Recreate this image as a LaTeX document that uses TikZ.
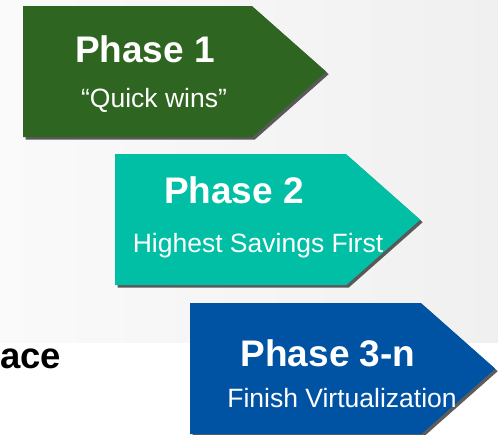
\documentclass[tikz,border=0pt]{standalone}
\usepackage{fontspec}
\setmainfont{Liberation Sans}
\usetikzlibrary{shapes.symbols, shadows, positioning}

\definecolor{phaseGreen}{HTML}{2E6520}
\definecolor{phaseTeal}{HTML}{00BFA5}
\definecolor{phaseBlue}{HTML}{0052A2}
\definecolor{bandLeft}{HTML}{FAFAFA}
\definecolor{bandRight}{HTML}{F0F0F0}

\begin{document}
\begin{tikzpicture}[
	x=1pt, y=-1pt,
	phase/.style={
		signal, signal to=east, signal pointer angle=83,
		minimum width=305pt, minimum height=131pt,
		inner sep=0pt, anchor=north west,
		drop shadow={shadow xshift=2.5pt, shadow yshift=-2.5pt, opacity=0.75, fill=black!85}
	},
	title/.style={anchor=base, text=white, font=\fontsize{37}{42}\selectfont\bfseries},
	sub/.style={anchor=base, text=white, font=\fontsize{26.5}{31}\selectfont}
	]
	
	\clip (0,0) rectangle (498,435);
	
	% Background band
	\shade[left color=bandLeft, right color=bandRight] (0,0) rectangle (498,343);
	\node[anchor=base west, inner sep=0pt, font=\fontsize{36.5}{44}\selectfont\bfseries] (place) at (0,369) {ace};
	
	% Phase 1
	\node[phase, fill=phaseGreen, minimum width=303pt] (phase_1) at (23,6) {};
	\node[title] (phase_1_title) at (145,63) {Phase 1};
	\node[sub] (phase_1_sub) at (154,108) {“Quick wins”};
	
	% Phase 2
	\node[phase, fill=phaseTeal] (phase_2) at (115,154) {};
	\node[title] (phase_2_title) at (234,204) {Phase 2};
	\node[sub] (phase_2_sub) at (258,253) {Highest Savings First};
	
	% Phase 3-n
	\node[phase, fill=phaseBlue] (phase_3) at (190,303) {};
	\node[title] (phase_3_title) at (328,367) {Phase 3-n};
	\node[sub] (phase_3_sub) at (342,407) {Finish Virtualization};
	
\end{tikzpicture}
\end{document}
